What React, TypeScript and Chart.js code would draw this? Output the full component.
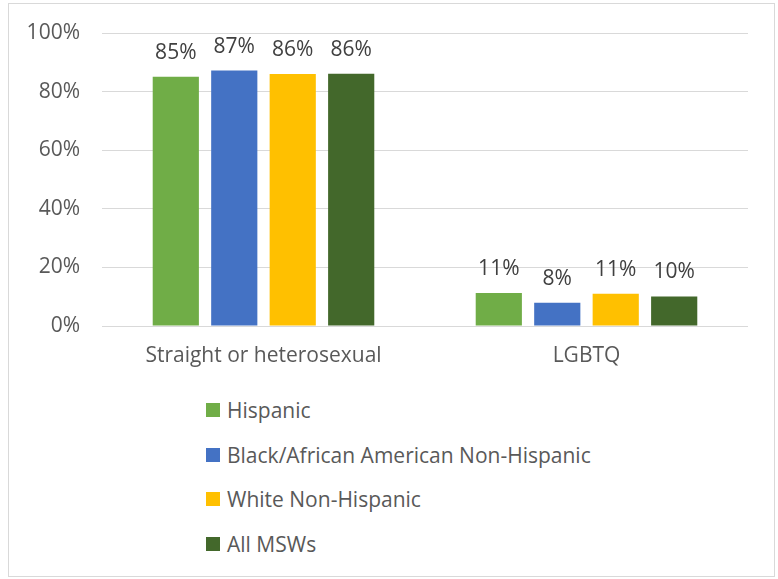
import React, { useEffect, useRef } from "react";
import { Chart, registerables } from "chart.js";
Chart.register(...registerables);

const categories = ["Straight or heterosexual", "LGBTQ"];
const seriesNames = ["Hispanic", "Black/African American Non-Hispanic", "White Non-Hispanic", "All MSWs"];
const hispanic = [85.1, 11.3];
const blackNonHispanic = [87.2, 7.9];
const whiteNonHispanic = [86.0, 11.0];
const allMsws = [86.1, 10.1];
const seriesValues = [hispanic, blackNonHispanic, whiteNonHispanic, allMsws];
const seriesColors = ["#70AD47", "#4472C4", "#FFC000", "#43682B"];
const yMin = 0;
const yMax = 100;
const yStep = 20;

const FONT = "'Open Sans', sans-serif";
const FS = 21;
const TEXT = "#595959";

const labelPlugin = {
  id: "barLabels",
  afterDatasetsDraw(chart: any) {
    const ctx = chart.ctx;
    ctx.save();
    ctx.font = `${FS}px ${FONT}`;
    ctx.fillStyle = "#404040";
    ctx.textAlign = "center";
    ctx.textBaseline = "alphabetic";
    chart.data.datasets.forEach((ds: any, i: number) => {
      const meta = chart.getDatasetMeta(i);
      meta.data.forEach((bar: any, j: number) => {
        ctx.fillText(Math.round(ds.data[j]) + "%", bar.x, bar.y - 18);
      });
    });
    ctx.restore();
  },
};

export default function App() {
  const ref = useRef<HTMLCanvasElement>(null);
  useEffect(() => {
    if (!ref.current) return;
    const chart = new Chart(ref.current, {
      type: "bar",
      data: {
        labels: categories,
        datasets: seriesNames.map((name, i) => ({
          label: name,
          data: seriesValues[i],
          backgroundColor: seriesColors[i],
          borderWidth: 0,
          categoryPercentage: 0.724,
          barPercentage: 0.79,
        })),
      },
      options: {
        responsive: false,
        animation: false,
        devicePixelRatio: 1,
        layout: { padding: { left: 0, right: 26, top: 29, bottom: 0 } },
        plugins: { legend: { display: false }, tooltip: { enabled: false } },
        scales: {
          x: {
            grid: { display: false },
            border: { display: false },
            ticks: { color: TEXT, font: { family: FONT, size: FS }, padding: 9 },
            afterFit: (s: any) => {
              s.height = 54;
              s.paddingLeft = 0;
              s.paddingRight = 0;
            },
          },
          y: {
            min: yMin,
            max: yMax,
            grid: { color: "#D9D9D9", lineWidth: 1, drawTicks: false },
            border: { display: false },
            ticks: {
              stepSize: yStep,
              color: TEXT,
              font: { family: FONT, size: FS },
              padding: 22,
              callback: (v: any) => v + "%",
            },
            afterFit: (s: any) => {
              s.width = 93;
              s.paddingTop = 0;
              s.paddingBottom = 0;
            },
          },
        },
      },
      plugins: [labelPlugin],
    });
    return () => chart.destroy();
  }, []);

  const legendTops = [406, 450.5, 495, 539.5];
  return (
    <div
      style={{
        position: "absolute",
        left: 8,
        top: 3,
        width: 765,
        height: 572,
        border: "1px solid #D9D9D9",
        background: "#fff",
      }}
    >
      <canvas ref={ref} width={765} height={376} style={{ position: "absolute", left: 0, top: 0 }} />
      {seriesNames.map((name, i) => (
        <div
          key={name}
          style={{
            position: "absolute",
            left: 197,
            top: legendTops[i] - 14,
            height: 28,
            display: "flex",
            alignItems: "center",
            fontFamily: FONT,
            fontSize: FS,
            color: TEXT,
            whiteSpace: "nowrap",
          }}
        >
          <span style={{ display: "inline-block", width: 14, height: 14, background: seriesColors[i], marginRight: 7 }} />
          {name}
        </div>
      ))}
    </div>
  );
}
